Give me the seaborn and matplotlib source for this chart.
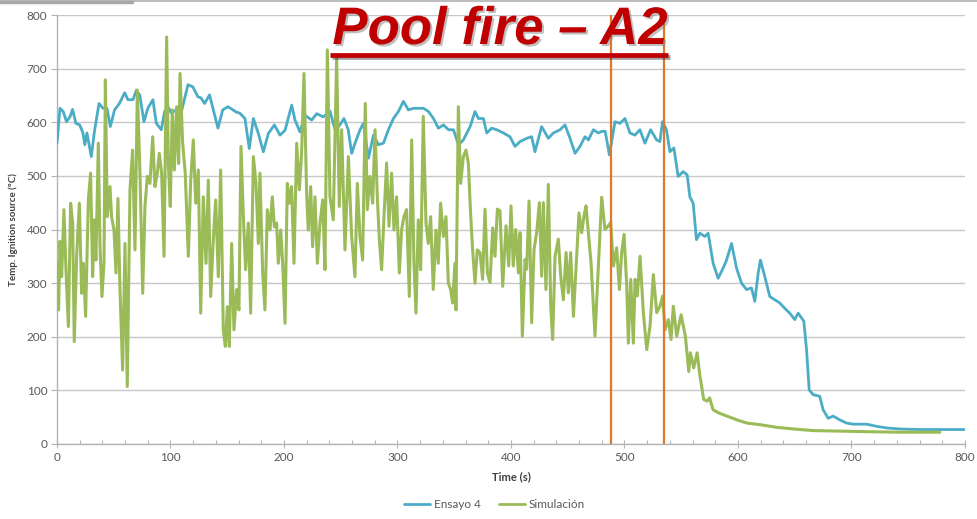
import matplotlib
matplotlib.use("Agg")
import matplotlib.pyplot as plt
import matplotlib.patheffects as pe
from matplotlib.lines import Line2D
from matplotlib.ticker import MultipleLocator
import numpy as np
import pandas as pd
import seaborn as sns

# Measured ignition-source temperature (test 4)
ensayo_t = [0, 2.6, 5.5, 8.4, 11.4, 13.7, 16.6, 20, 22.9, 24.5, 26.4, 30.2, 33, 37, 40.5, 44, 47, 50.7,
            55, 59.6, 62.5, 66.9, 70, 73, 76.6, 80, 84.5, 87.5, 91.9, 94.8, 97.8, 100.7, 105, 110,
            115.4, 119.7, 124, 127, 130, 134.4, 138.8, 141.8, 146, 150.6, 155, 158, 161, 165.6,
            169.4, 173, 177.4, 181.8, 186.2, 191.5, 196.5, 200.9, 206.8, 209.7, 214, 218.5, 224.4,
            228.8, 234.6, 240.5, 245, 249.3, 252.8, 256.6, 259.6, 262.6, 267, 270, 274.4, 278.8,
            283.2, 287.6, 292, 296.4, 300.8, 305.2, 309.6, 314, 318.5, 322.9, 327.3, 331.7, 336,
            340.5, 345, 349.3, 353.7, 358, 364, 368.3, 371.3, 375.7, 378.6, 383, 387.4, 393.3,
            399.1, 403.5, 408, 413.8, 418.2, 421.1, 427, 432.9, 437.3, 443.2, 447.6, 452, 456.4,
            460.8, 465.2, 468.2, 472.6, 477, 480, 483, 486.7, 491.6, 496, 500.4, 504.8, 509.2,
            513.6, 518, 523, 528.3, 531.2, 533.5, 537, 540, 543.5, 547.3, 551.7, 555.2, 557.6,
            560.5, 563.4, 566.4, 570.8, 573.7, 578.1, 582.5, 586.9, 589.9, 594.3, 598.7, 603.1,
            607.5, 611.9, 614.8, 617.8, 619.8, 623.6, 628, 632.4, 636.8, 641.2, 645.6, 650, 653,
            658, 660.4, 662.7, 666.2, 672, 675, 679.4, 683.8, 689.7, 695.6, 701.5, 707.4, 713.2,
            722, 730.8, 742.6, 760.2, 777.8, 800]
ensayo_v = [561, 626, 620, 601, 610, 624, 598, 595, 580, 558, 580, 536, 583, 635, 626, 626, 592, 623,
            635, 655, 642, 642, 660, 650, 601, 626, 642, 598, 586, 620, 629, 617, 623, 623,
            670, 666, 648, 645, 635, 651, 614, 589, 623, 629, 623, 619, 617, 607,
            551, 607, 579, 545, 579, 595, 576, 585, 632, 604, 582, 613, 604,
            616, 610, 621, 586, 595, 607, 586, 542, 561, 586, 598, 533, 576,
            558, 561, 586, 607, 620, 639, 623, 626, 626, 626, 620, 607, 589,
            595, 586, 586, 558, 567, 592, 620, 607, 607, 580, 589, 586, 580,
            573, 555, 564, 570, 573, 545, 592, 570, 580, 586, 595, 570, 542,
            555, 573, 567, 586, 580, 583, 583, 539, 601, 598, 607, 580, 576,
            586, 561, 586, 567, 564, 601, 586, 545, 552, 499, 508, 502, 461,
            449, 381, 393, 387, 393, 337, 309, 328, 343, 374, 328, 300,
            288, 291, 266, 319, 343, 312, 275, 269, 263, 253, 244, 232, 244,
            229, 176, 101, 92, 89, 64, 48, 52, 45, 39, 37, 37, 37,
            33, 30, 28, 27, 27, 27]

# Simulated ignition-source temperature
sim_t = [0.3, 1.4, 2.6, 4.1, 6.1, 7.9, 10, 12, 13.8, 15.2, 17.3, 19.7, 21.7, 23.2, 25.2, 27.6, 29.6,
         31.4, 32.9, 34.3, 36.4, 37.9, 39.6, 41.4, 42.6, 44.3, 46.7, 48.1, 50.2, 52, 53.7, 55.5,
         57.8, 59.9, 61.9, 64.3, 66.6, 68.7, 70.8, 73.1, 75.5, 77.5, 79.6, 81.9, 84.3, 86.3, 88.4,
         90.1, 92.2, 94.3, 96.6, 98.1, 99.8, 101.6, 103.4, 105.4, 107.2, 108.4, 110.7, 113, 115.7,
         117.8, 120.1, 122.2, 124.5, 126.6, 128.9, 131.3, 133.3, 135.4, 137.7, 139.8, 142.1, 144.2,
         146.5, 148.3, 150.1, 151.8, 153.9, 155.9, 158.3, 160.3, 162.1, 164.2, 166.2, 168.6, 170.6,
         173, 175.3, 177.4, 178.8, 181.2, 183.2, 185.3, 187.7, 189.7, 191.5, 193.5, 195, 197.1,
         198.8, 200.9, 202.9, 204.7, 206.7, 208.8, 211.2, 213.5, 215.5, 217.6, 220, 221.4, 223.5,
         225.2, 227.3, 229.4, 231.7, 234.1, 236.1, 238.2, 240.5, 243.4, 246.4, 248.7, 250.8, 253.7,
         256.7, 259.6, 262.5, 264.6, 266.9, 269.3, 271.6, 273.4, 275.7, 278.1, 280.2, 282.2, 284,
         286, 288.1, 290.4, 292.5, 294.8, 296.9, 299.2, 301.6, 303.6, 305.7, 308, 310.4, 312.5,
         314.5, 316.3, 318.3, 320.4, 322.7, 325.1, 327.1, 329.2, 331.5, 333.9, 335.9, 338, 340.4,
         342.7, 344.8, 346.8, 348.6, 350.6, 351.5, 353.6, 355.6, 358, 360.3, 362.4, 364.4, 366.2,
         368.3, 370.3, 372.7, 375, 377.1, 379.2, 381.5, 383.9, 385.9, 388, 390.3, 392.7, 395.6,
         398, 400, 402, 404.1, 406.5, 408, 410, 412.4, 413.8, 415.9, 418.2, 420.3, 422.6, 425,
         427, 428.5, 430.8, 432.9, 435, 436.7, 438.8, 441.7, 443.8, 446.1, 448.5, 450.5, 452.6,
         455, 457.9, 459.9, 462.3, 464.3, 466.1, 468.2, 470.5, 474, 477, 479.9, 482.8, 485.8,
         487.8, 490.2, 493.1, 495.5, 497.5, 499.6, 502, 503.4, 505.5, 507.8, 509.3, 511.3, 513.7,
         516.6, 519.6, 522.5, 525.4, 528.4, 531.3, 533.6, 535.7, 538.6, 541, 543, 546, 549.9,
         553.7, 556.6, 558.1, 561, 564, 566.3, 569.8, 572.8, 575, 578, 583, 590.3, 599.1, 607.9,
         619.6, 634.3, 649, 666.6, 690, 713.2, 742.6, 777.8]
sim_v = [337, 250, 378, 312, 437, 325, 219, 449, 412, 191, 350, 449, 281, 337, 238, 455, 505,
         312, 418, 343, 561, 368, 275, 337, 679, 424, 480, 424, 399, 319, 458, 288,
         138, 374, 107, 474, 548, 362, 660, 505, 281, 443, 499, 486, 573, 480, 505,
         542, 505, 350, 759, 523, 443, 623, 511, 629, 523, 691, 561, 505, 350,
         492, 567, 449, 511, 244, 461, 337, 492, 275, 381, 455, 312, 511,
         213, 182, 256, 182, 374, 213, 288, 250, 555, 424, 325, 412, 244,
         536, 486, 374, 505, 319, 250, 437, 399, 461, 405, 412, 337, 399,
         337, 225, 486, 449, 480, 337, 561, 474, 542, 691, 461, 399, 480,
         368, 461, 337, 412, 455, 325, 735, 461, 418, 720, 443, 586, 362,
         536, 387, 312, 486, 387, 343, 635, 437, 499, 449, 586, 461, 381,
         325, 424, 524, 406, 505, 399, 461, 319, 399, 424, 437, 275, 567,
         337, 244, 418, 325, 611, 412, 374, 424, 288, 399, 337, 449, 387,
         424, 300, 288, 263, 337, 250, 629, 486, 536, 548, 524, 430, 362,
         300, 362, 357, 307, 438, 319, 301, 403, 350, 438, 435, 294, 407,
         332, 444, 332, 400, 319, 394, 201, 344, 326, 453, 226, 363, 394, 450,
         313, 450, 288, 484, 257, 195, 350, 382, 313, 269, 357, 282, 357,
         238, 350, 431, 394, 425, 444, 394, 338, 201, 332, 460, 400, 407,
         413, 332, 366, 288, 357, 391, 294, 188, 307, 188, 307, 276, 350,
         245, 176, 220, 316, 245, 257, 276, 213, 232, 195, 257, 201, 241,
         200, 135, 170, 142, 170, 129, 83, 80, 86, 64, 58, 52, 45, 39,
         36, 31, 28, 25, 24, 23, 22, 22]

series_names = ["Ensayo 4", "Simulación"]
series_colors = ["#4BACC6", "#9BBB59"]
marker_times = [488, 535]          # orange reference lines (s)
x_ticks = [0, 100, 200, 300, 400, 500, 600, 700, 800]
y_ticks = [0, 100, 200, 300, 400, 500, 600, 700, 800]

df = pd.concat([
    pd.DataFrame({"t": ensayo_t, "T": ensayo_v, "serie": series_names[0]}),
    pd.DataFrame({"t": sim_t, "T": sim_v, "serie": series_names[1]}),
], ignore_index=True)

sns.set_theme(style="white")
plt.rcParams["font.family"] = ["Lato", "DejaVu Sans"]

fig = plt.figure(figsize=(9.78, 5.19), dpi=100)
ax = fig.add_axes([57 / 978, 1 - 444 / 519, 908 / 978, 429 / 519])

sns.lineplot(data=df[df.serie == series_names[0]], x="t", y="T", color=series_colors[0],
             lw=2.0, sort=False, estimator=None, ax=ax, zorder=3)
sns.lineplot(data=df[df.serie == series_names[1]], x="t", y="T", color=series_colors[1],
             lw=2.2, sort=False, estimator=None, ax=ax, zorder=4)

for mt in marker_times:
    ax.axvline(mt, color="#E0782A", lw=1.6, zorder=5)

ax.set_xlim(0, 800)
ax.set_ylim(0, 800)
ax.set_xticks(x_ticks)
ax.set_yticks(y_ticks)
ax.xaxis.set_minor_locator(MultipleLocator(20))
ax.grid(axis="y", color="#C8C8C8", lw=1.0, zorder=0)
ax.set_axisbelow(True)
for s in ["top", "right"]:
    ax.spines[s].set_visible(False)
for s in ["left", "bottom"]:
    ax.spines[s].set_color("#B4B4B4")
    ax.spines[s].set_linewidth(1.0)
ax.tick_params(axis="x", which="major", direction="inout", length=6, width=0.8, color="#B4B4B4",
               labelsize=8.5, labelcolor="#595959", pad=3, bottom=True)
ax.tick_params(axis="x", which="minor", direction="in", length=3, width=0.8, color="#B4B4B4",
               bottom=True)
ax.tick_params(axis="y", which="major", direction="out", length=4, width=0.8, color="#B4B4B4",
               labelsize=8.5, labelcolor="#595959", pad=3, left=True)

ax.set_xlabel("Time (s)", fontsize=8, fontweight="bold", color="#404040", labelpad=6)
ax.set_ylabel("Temp. Ignition source (ºC)", fontsize=7, fontweight="bold", color="#404040",
              labelpad=6)

handles = [Line2D([], [], color=c, lw=2) for c in series_colors]
ax.legend(handles, series_names, loc="center", bbox_to_anchor=(0.482, -0.142), ncol=2,
          frameon=False, fontsize=8.5, labelcolor="#595959", handlelength=2.2,
          handletextpad=0.3, columnspacing=1.6)

# Slide title
shadow = [pe.SimplePatchShadow(offset=(1.5, -1.5), shadow_rgbFace="#808080", alpha=0.5), pe.Normal()]
fig.text(0.5112, 1 - 44 / 519, "Pool fire – A2", ha="center", va="baseline",
         fontsize=38, fontweight="bold", fontstyle="italic", color="#C00000",
         family=["Liberation Sans", "DejaVu Sans"], path_effects=shadow, zorder=10)
fig.add_artist(Line2D([330 / 978, 668 / 978], [1 - 54.5 / 519] * 2, color="#C00000", lw=3.4,
                      solid_capstyle="butt", zorder=10,
                      path_effects=[pe.SimpleLineShadow(offset=(1.5, -1.5), alpha=0.4), pe.Normal()]))

# thin slide border strip along the top edge
fig.add_artist(Line2D([0, 1], [1 - 1 / 519] * 2, color="#BDBDBD", lw=1.5))
fig.add_artist(Line2D([0, 132 / 978], [1 - 1.5 / 519] * 2, color="#A8A8A8", lw=2.5))

fig.savefig("out.png", dpi=100)
